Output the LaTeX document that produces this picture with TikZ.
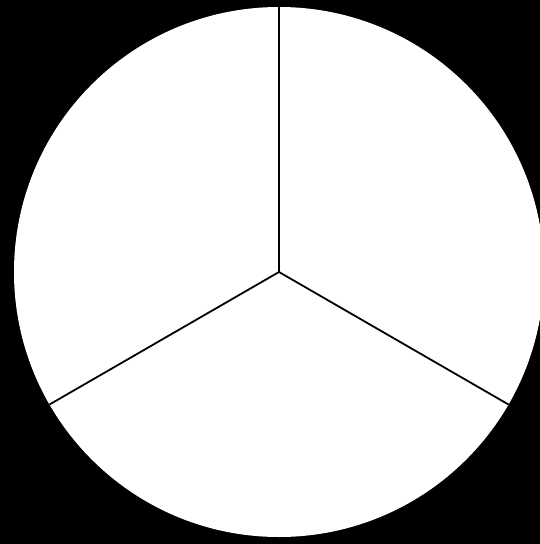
\documentclass[tikz,border=0pt]{standalone}
\usepackage{xcolor}
\usepackage{tikz}
\usetikzlibrary{calc}

\begin{document}
\begin{tikzpicture}[x=1pt, y=1pt,
	disc/.style = {fill=white, draw=none},
	spoke/.style = {draw=black, line width=1.8pt}]

\fill[black] (0,0) rectangle (540,-544);
\useasboundingbox (0,0) rectangle (540,-544);

\coordinate (o) at (279,-272);
\fill[disc] (o) circle (265);

\coordinate (s1) at ($(o)+(90:265)$);
\coordinate (s2) at ($(o)+(210:265)$);
\coordinate (s3) at ($(o)+(330:265)$);

\draw[spoke] (o) -- (s1);
\draw[spoke] (o) -- (s2);
\draw[spoke] (o) -- (s3);

\end{tikzpicture}
\end{document}
